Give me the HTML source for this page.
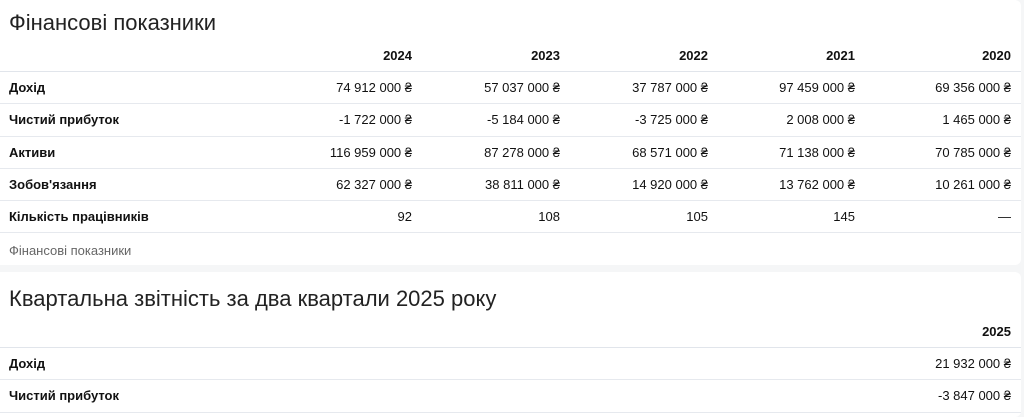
<!DOCTYPE html>
<html><head><meta charset="utf-8">
<style>
html,body{margin:0;padding:0;}
body{width:1024px;height:417px;background:#f5f6f7;font-family:"Liberation Sans","Noto Sans CJK SC",sans-serif;color:#111;overflow:hidden;position:relative;}
.card{position:absolute;left:0;width:1021px;background:#fff;border-radius:0 6px 6px 0;}
h2{position:absolute;left:9px;margin:0;font-weight:normal;font-size:22px;color:#222;}
table{position:absolute;left:0;width:1021px;border-collapse:collapse;font-size:13px;table-layout:fixed;}
td,th{height:31.3px;padding:0 10px 0 9px;border-bottom:1px solid #e6e9ee;text-align:right;}
th{font-weight:bold;border-bottom:1px solid #e1e5eb;height:31px;}
td:first-child,th:first-child{text-align:left;font-weight:bold;}
.cap{position:absolute;left:9px;font-size:13px;color:#666;}
</style></head><body>
<div class="card" style="top:0;height:265px;">
<h2 style="top:10px;">Фінансові показники</h2>
<table style="top:40px;">
<colgroup><col style="width:274px"><col style="width:148px"><col style="width:148px"><col style="width:148px"><col style="width:147px"><col style="width:156px"></colgroup>
<tr><th></th><th>2024</th><th>2023</th><th>2022</th><th>2021</th><th>2020</th></tr>
<tr><td>Дохід</td><td>74 912 000 ₴</td><td>57 037 000 ₴</td><td>37 787 000 ₴</td><td>97 459 000 ₴</td><td>69 356 000 ₴</td></tr>
<tr><td>Чистий прибуток</td><td>-1 722 000 ₴</td><td>-5 184 000 ₴</td><td>-3 725 000 ₴</td><td>2 008 000 ₴</td><td>1 465 000 ₴</td></tr>
<tr><td>Активи</td><td>116 959 000 ₴</td><td>87 278 000 ₴</td><td>68 571 000 ₴</td><td>71 138 000 ₴</td><td>70 785 000 ₴</td></tr>
<tr><td>Зобов'язання</td><td>62 327 000 ₴</td><td>38 811 000 ₴</td><td>14 920 000 ₴</td><td>13 762 000 ₴</td><td>10 261 000 ₴</td></tr>
<tr><td>Кількість працівників</td><td>92</td><td>108</td><td>105</td><td>145</td><td>—</td></tr>
</table>
<div class="cap" style="top:243px;">Фінансові показники</div>
</div>
<div class="card" style="top:272px;height:145px;">
<h2 style="top:14px;">Квартальна звітність за два квартали 2025 року</h2>
<table style="top:44px;">
<colgroup><col style="width:865px"><col style="width:156px"></colgroup>
<tr><th></th><th>2025</th></tr>
<tr><td>Дохід</td><td>21 932 000 ₴</td></tr>
<tr><td>Чистий прибуток</td><td>-3 847 000 ₴</td></tr>
</table>
</div>
</body></html>
